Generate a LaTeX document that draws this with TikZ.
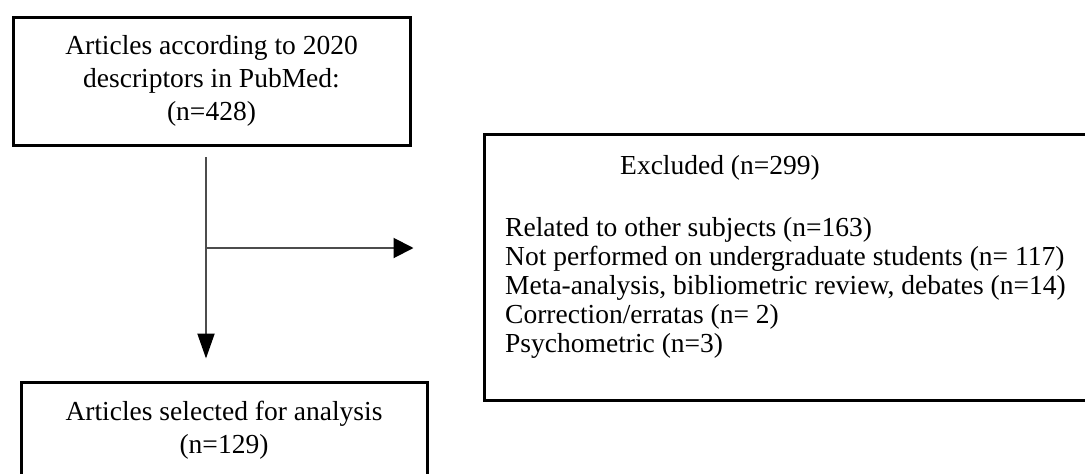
\documentclass[tikz,border=0pt]{standalone}
\usepackage{fontspec}
\setmainfont{Liberation Serif}
\usetikzlibrary{arrows.meta,calc,positioning}

\begin{document}
\begin{tikzpicture}[x=1pt, y=-1pt,
    box/.style={draw, line width=3pt, align=center, inner sep=0pt, font=\fontsize{27.5}{33}\selectfont},
    flow/.style={draw=black!70, line width=2pt}]
    \useasboundingbox[fill=white] (0,0) rectangle (1085,474);

    % Nodes
    \node[box, minimum width=397pt, minimum height=128pt] at (211.5, 81) (source) {Articles according to 2020\\descriptors in PubMed:\\(n=428)};
    \node[box, minimum width=406pt, minimum height=95pt, anchor=north] at (224, 381) (selected) {Articles selected for analysis\\(n=129)};
    \node[box, minimum width=650pt, minimum height=266pt, anchor=north west] at (483, 133) (excluded) {};
    \node[font=\fontsize{27.5}{33}\selectfont, anchor=base, inner sep=0pt] at (720, 174) (exhead) {Excluded (n=299)};
    % base of a multi-line node is its last line
    \node[font=\fontsize{27.5}{29}\selectfont, align=left, anchor=base west, inner sep=0pt] at (505, 352) (exlist) {Related to other subjects (n=163)\\Not performed on undergraduate students (n= 117)\\Meta-analysis, bibliometric review, debates (n=14)\\Correction/erratas (n= 2)\\Psychometric (n=3)};

    \coordinate (split) at (206, 248);

    % Connectors
    \draw[flow, -{Triangle[length=25pt, width=17pt, color=black]}, shorten <=10.5pt, shorten >=22.5pt] (source.south -| split) -- (selected.north -| split);
    \draw[flow, -{Triangle[length=20pt, width=20pt, color=black]}, shorten >=69.5pt] (split) -- (split -| excluded.west);
\end{tikzpicture}
\end{document}
